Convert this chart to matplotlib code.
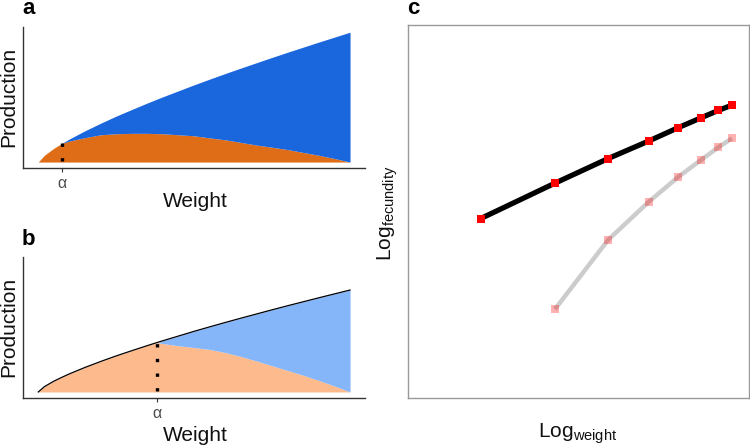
import matplotlib
matplotlib.use("Agg")
import matplotlib.pyplot as plt

plt.rcParams['font.family'] = ['Liberation Sans', 'DejaVu Sans']
plt.rcParams['mathtext.fontset'] = 'custom'
plt.rcParams['mathtext.rm'] = 'Liberation Sans'
plt.rcParams['mathtext.it'] = 'Liberation Sans:italic'
plt.rcParams['mathtext.bf'] = 'Liberation Sans:bold'

# weight (fraction of the span), shared by panels a and b
weight = [0, 0.02, 0.05, 0.075, 0.1, 0.15, 0.2, 0.25, 0.3, 0.35, 0.381, 0.4, 0.45,
          0.5, 0.55, 0.6, 0.65, 0.7, 0.75, 0.8, 0.85, 0.9, 0.95, 1.0]
# total production (upper curve)
production = [0, 0.053, 0.106, 0.143, 0.178, 0.241, 0.299, 0.354, 0.405, 0.455, 0.485, 0.503,
              0.549, 0.595, 0.639, 0.682, 0.724, 0.765, 0.806, 0.846, 0.885, 0.924, 0.962, 1.0]
# growth part (lower area) - panel a, early maturation
growth_a = [0, 0.053, 0.106, 0.143, 0.162, 0.188, 0.21, 0.218, 0.221, 0.221, 0.219, 0.218,
            0.21, 0.202, 0.186, 0.171, 0.151, 0.131, 0.114, 0.096, 0.074, 0.052, 0.027, 0]
# growth part - panel b, late maturation
growth_b = [0, 0.053, 0.106, 0.143, 0.178, 0.241, 0.299, 0.354, 0.405, 0.455, 0.485, 0.475,
            0.453, 0.436, 0.417, 0.387, 0.348, 0.304, 0.257, 0.211, 0.164, 0.113, 0.059, 0]
alpha_a = 0.075
alpha_b = 0.381

# panel c
log_weight = [21.3, 43.1, 58.7, 70.6, 79.3, 85.9, 91.0, 95.0]
log_fec_black = [48.1, 57.6, 64.2, 68.9, 72.5, 75.1, 77.1, 78.5]
log_weight_gray = [43.1, 58.7, 70.6, 79.3, 85.9, 91.0, 95.0]
log_fec_gray = [23.8, 42.4, 52.6, 59.3, 63.8, 67.2, 69.6]

W, H = 750, 448
fig = plt.figure(figsize=(7.5, 4.48), dpi=100)

def box(l, t, r, b):
    return [l / W, 1 - b / H, (r - l) / W, (b - t) / H]

def style_ab(ax, alpha_w, ylim):
    ax.set_xlim(-0.049, 1.048)
    ax.set_ylim(*ylim)
    for s in ['top', 'right']:
        ax.spines[s].set_visible(False)
    for s in ['left', 'bottom']:
        ax.spines[s].set_color('#333333')
        ax.spines[s].set_linewidth(1.0)
    ax.set_yticks([])
    ax.set_xticks([alpha_w])
    ax.set_xticklabels([])
    ax.tick_params(axis='x', length=3, width=0.8, color='#333333')

# panel a
ax1 = fig.add_axes(box(23, 27, 365, 167.5))
ax1.fill_between(weight, 0, growth_a, color='#DF6C16', lw=0)
ax1.fill_between(weight, growth_a, production, color='#1A66DD', lw=0)
ax1.plot([alpha_a, alpha_a], [0.005, 0.143], color='black', lw=2.4, ls=(0, (1, 3.4)))
style_ab(ax1, alpha_a, (-0.042, 1.04))

# panel b
ax2 = fig.add_axes(box(23, 257, 365, 398))
ax2.fill_between(weight, 0, growth_b, color='#FDBA8C', lw=0)
ax2.fill_between(weight, growth_b, production, color='#86B6FA', lw=0)
ax2.plot(weight, production, color='black', lw=0.9)
ax2.plot([alpha_b, alpha_b], [0.01, 0.485], color='black', lw=2.4, ls=(0, (1, 3.4)))
style_ab(ax2, alpha_b, (-0.059, 1.324))

# panel c
ax3 = fig.add_axes(box(408, 25, 749, 398))
ax3.set_xlim(0, 100)
ax3.set_ylim(0, 100)
ax3.plot(log_weight_gray, log_fec_gray, color='#CCCCCC', lw=3.2, solid_capstyle='butt')
ax3.plot(log_weight_gray, log_fec_gray, ls='none', marker='s', ms=5.4, color='red', alpha=0.3, mew=0)
ax3.plot(log_weight, log_fec_black, color='black', lw=3.8, solid_capstyle='butt')
ax3.plot(log_weight, log_fec_black, ls='none', marker='s', ms=5.4, color='red', mew=0)
ax3.set_xticks([])
ax3.set_yticks([])
for s in ax3.spines.values():
    s.set_color('#999999')
    s.set_linewidth(1.0)

def ftext(x, y, s, **kw):
    fig.text(x / W, 1 - y / H, s, **kw)

# panel letters
ftext(22, 14, 'a', fontsize=16, fontweight='bold', va='baseline')
ftext(22, 245, 'b', fontsize=16, fontweight='bold', va='baseline')
ftext(407, 14, 'c', fontsize=16, fontweight='bold', va='baseline')

# axis labels a/b
for yc, yw, ya, xa in [(97, 201, 184, 62), (327, 435, 413, 157)]:
    ftext(8.5, yc, 'Production', fontsize=15, rotation=90, ha='center', va='center', color='#111111')
    ftext(195, yw, 'Weight', fontsize=15, ha='center', va='center', color='#111111')
    ftext(xa, ya, 'α', fontsize=11.5, ha='center', va='center', color='#4D4D4D')

# panel c labels
ftext(388, 213, r'$\mathrm{Log}_{\mathrm{fecundity}}$', fontsize=15, rotation=90,
      ha='center', va='center', color='#111111')
ftext(578, 434, r'$\mathrm{Log}_{\mathrm{weight}}$', fontsize=15,
      ha='center', va='center', color='#111111')

fig.savefig('out.png', dpi=100)
